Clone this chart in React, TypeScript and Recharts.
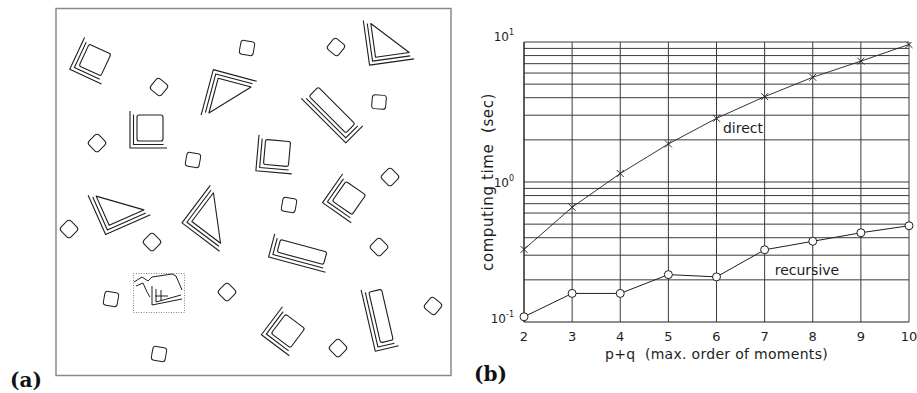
import { LineChart, Line, XAxis, YAxis, CartesianGrid, ReferenceDot, ReferenceLine } from 'recharts';

// p+q (max. order of moments)
const orders = [2, 3, 4, 5, 6, 7, 8, 9, 10];
// computing time in seconds
const directTimes = [0.33, 0.66, 1.15, 1.87, 2.85, 4.07, 5.6, 7.3, 9.6];
const recursiveTimes = [0.109, 0.16, 0.16, 0.218, 0.21, 0.328, 0.377, 0.434, 0.487];
const yTicks = [0.1, 1, 10];
const yExponents = ['-1', '0', '1'];
const gridValues = [0.2, 0.3, 0.4, 0.5, 0.6, 0.7, 0.8, 0.9, 1, 2, 3, 4, 5, 6, 7, 8, 9, 10];

const data = orders.map((o, i) => ({ order: o, direct: directTimes[i], recursive: recursiveTimes[i] }));

const FONT = '"DejaVu Sans", sans-serif';
const INK = '#1e1e1e';

// --- panel (a): the scene illustration ---
type Piece = { k: 'sq' | 'tri' | 'rect'; x: number; y: number; w: number; h: number; r: number };
const smallBlocks: [number, number, number][] = [
  [247, 48, 10], [336, 47, 40], [159, 87, 40], [379, 102, 5], [97, 143, 45], [193, 160, 10],
  [390, 177, 45], [289, 205, 10], [69, 229, 45], [152, 242, 45], [379, 247, 45], [111, 299, 10],
  [227, 292, 45], [433, 306, 40], [338, 348, 45], [159, 354, 10],
];
const pieces: Piece[] = [
  { k: 'sq', x: 95, y: 60, w: 24, h: 24, r: 25 },
  { k: 'tri', x: 390, y: 38, w: 34, h: 34, r: -8 },
  { k: 'tri', x: 230, y: 100, w: 36, h: 34, r: 105 },
  { k: 'rect', x: 332, y: 110, w: 13, h: 52, r: -45 },
  { k: 'sq', x: 150, y: 128, w: 26, h: 26, r: 0 },
  { k: 'sq', x: 277, y: 153, w: 25, h: 25, r: 5 },
  { k: 'tri', x: 120, y: 203, w: 38, h: 32, r: -24 },
  { k: 'tri', x: 217, y: 218, w: 36, h: 36, r: 37 },
  { k: 'sq', x: 349, y: 198, w: 24, h: 24, r: 35 },
  { k: 'rect', x: 302, y: 252, w: 48, h: 13, r: 15 },
  { k: 'rect', x: 381, y: 316, w: 13, h: 52, r: -13 },
  { k: 'sq', x: 288, y: 331, w: 24, h: 24, r: 37 },
];

function EchoPiece({ p }: { p: Piece }) {
  const a = p.w / 2;
  const b = p.h / 2;
  const g = 3.5;
  const inner = p.k === 'tri'
    ? <polygon points={`${-a},${-b} ${-a},${b} ${a},${b}`} />
    : <rect x={-a} y={-b} width={p.w} height={p.h} rx={2} />;
  return (
    <g transform={`translate(${p.x},${p.y}) rotate(${p.r})`} fill="none" stroke={INK} strokeWidth={1.1} strokeLinejoin="round">
      {inner}
      {[1, 2].map(k => (
        <polyline key={k} points={`${-a - k * g},${-b - k * g + 3} ${-a - k * g},${b + k * g} ${a + k * g - 3},${b + k * g}`} />
      ))}
    </g>
  );
}

function SceneA() {
  return (
    <svg width={470} height={393} style={{ position: 'absolute', left: 0, top: 0 }}>
      <rect x={56} y={8.5} width={395} height={367} fill="none" stroke="#8a8a8a" strokeWidth={1.5} />
      {smallBlocks.map(([x, y, r], i) => (
        <rect key={i} x={x - 7} y={y - 7} width={14} height={14} rx={3} fill="none" stroke={INK} strokeWidth={1}
          transform={`rotate(${r} ${x} ${y})`} />
      ))}
      {pieces.map((p, i) => <EchoPiece key={i} p={p} />)}
      <rect x={133.5} y={273.5} width={51} height={39} fill="none" stroke="#666" strokeWidth={0.8} strokeDasharray="1 1.5" />
      <g fill="none" stroke={INK} strokeWidth={1}>
        <polyline points="134,282 142,277 148,281 152,277 172,274 176,276 182,290" />
        <polyline points="136,286 143,283 147,292 150,297" />
        <polyline points="152,286 152,305 182,299" />
        <polyline points="156,289 156,302 181,295" />
        <line x1={155} y1={296} x2={168} y2={296} />
        <line x1={161} y1={290} x2={161} y2={301} />
      </g>
      <text x={10} y={387} fontFamily='"DejaVu Serif", serif' fontWeight="bold" fontSize={20} fill="#111">(a)</text>
    </svg>
  );
}

// --- panel (b): timing chart ---
const CrossDot = (props: any) => {
  const { cx, cy } = props;
  if (cx == null || cy == null) return null;
  return (
    <g stroke={INK} strokeWidth={0.9}>
      <line x1={cx - 3.5} y1={cy - 3.5} x2={cx + 3.5} y2={cy + 3.5} />
      <line x1={cx - 3.5} y1={cy + 3.5} x2={cx + 3.5} y2={cy - 3.5} />
    </g>
  );
};

const CircleDot = (props: any) => {
  const { cx, cy } = props;
  if (cx == null || cy == null) return null;
  return <circle cx={cx} cy={cy} r={4} fill="#fff" stroke={INK} strokeWidth={1} />;
};

const PowerTick = (props: any) => {
  const { x, y, payload } = props;
  const i = yTicks.indexOf(payload.value);
  const lift = i === 2 ? -6 : i === 0 ? -4 : 0;
  return (
    <text x={x - 2} y={y + lift + 5} textAnchor="end" fontFamily={FONT} fontSize={12} fill={INK}>
      <tspan>10</tspan>
      <tspan dy={-6} fontSize={8}>{yExponents[i]}</tspan>
    </text>
  );
};

const YTitle = (props: any) => {
  const { viewBox } = props;
  const x = viewBox.x + 18;
  const y = viewBox.y + viewBox.height / 2;
  return (
    <text x={x} y={y} transform={`rotate(-90 ${x} ${y})`} textAnchor="middle" dominantBaseline="central"
      fontFamily={FONT} fontSize={15} letterSpacing={0.6} fill={INK} style={{ whiteSpace: 'pre' }}>
      {'computing time  (sec)'}
    </text>
  );
};

const XTitle = (props: any) => {
  const { viewBox } = props;
  const x = viewBox.x + viewBox.width / 2;
  const y = viewBox.y + viewBox.height + 12;
  return (
    <text x={x} y={y} textAnchor="middle" dominantBaseline="central" fontFamily={FONT} fontSize={14}
      letterSpacing={0.3} fill={INK} style={{ whiteSpace: 'pre' }}>
      {'p+q  (max. order of moments)'}
    </text>
  );
};

function ChartB() {
  return (
    <div style={{ position: 'absolute', left: 470, top: 0 }}>
      <LineChart width={447} height={393} data={data} margin={{ top: 42, right: 8, bottom: 51, left: 0 }}>
        <CartesianGrid stroke="#3a3a3a" strokeWidth={1} horizontal={false} verticalValues={orders} />
        {gridValues.map(v => (
          <ReferenceLine key={v} y={v} stroke="#3a3a3a" strokeWidth={1} ifOverflow="extendDomain" />
        ))}
        <XAxis dataKey="order" type="number" domain={[2, 10]} ticks={orders} interval={0} height={20}
          axisLine={{ stroke: INK }} tickLine={false} tickMargin={4}
          tick={{ fontFamily: FONT, fontSize: 13, fill: INK }} label={<XTitle />} />
        <YAxis type="number" scale="log" domain={[0.1, 10]} ticks={yTicks} allowDataOverflow width={54}
          axisLine={{ stroke: INK }} tickLine={false} tick={<PowerTick />} label={<YTitle />} />
        <Line type="linear" dataKey="direct" stroke={INK} strokeWidth={0.9} dot={<CrossDot />} isAnimationActive={false} />
        <Line type="linear" dataKey="recursive" stroke={INK} strokeWidth={1} dot={<CircleDot />} isAnimationActive={false} />
        <ReferenceDot x={6.55} y={2.43} r={0} stroke="none" fill="none"
          label={{ value: 'direct', position: 'center', fontFamily: FONT, fontSize: 14, fill: INK }} />
        <ReferenceDot x={7.88} y={0.235} r={0} stroke="none" fill="none"
          label={{ value: 'recursive', position: 'center', fontFamily: FONT, fontSize: 14, fill: INK }} />
      </LineChart>
      <div style={{ position: 'absolute', left: 4, top: 362, fontFamily: '"DejaVu Serif", serif', fontWeight: 'bold', fontSize: 20, color: '#111' }}>
        (b)
      </div>
    </div>
  );
}

export default function App() {
  return (
    <div style={{ position: 'absolute', left: 0, top: 0, width: 917, height: 393, background: '#fff' }}>
      <SceneA />
      <ChartB />
    </div>
  );
}
